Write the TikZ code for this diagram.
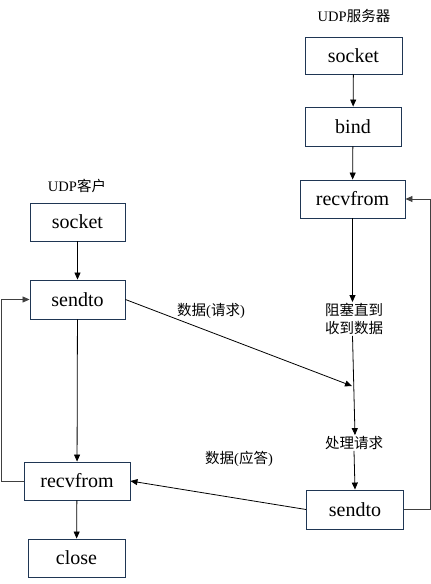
\documentclass[tikz,border=0pt]{standalone}
\usepackage{fontspec}
\setmainfont{Liberation Serif}
\newfontfamily\cjk{Noto Sans CJK SC}
\usetikzlibrary{arrows.meta}
\definecolor{boxline}{HTML}{1F3654}
\definecolor{loopline}{HTML}{404040}
\tikzset{
  box/.style={draw=boxline, line width=0.9pt, fill=white, inner sep=0pt,
    font=\fontsize{20}{24}\selectfont},
  lbl/.style={inner sep=1pt, align=center, font=\fontsize{14.5}{18}\selectfont},
  conn/.style={line width=0.8pt, -{Triangle[length=7pt,width=6pt]}},
  plain/.style={line width=0.8pt},
}
\begin{document}
\begin{tikzpicture}[x=1pt,y=-1pt]
\useasboundingbox (0,0) rectangle (431,584);
% client
\node[lbl] (clab) at (77,186) {UDP{\cjk 客户}};
\node[box, minimum width=95pt, minimum height=38pt] (csock) at (77.5,222) {socket};
\node[box, minimum width=95pt, minimum height=39pt] (csend) at (77.5,299.5) {sendto};
\node[box, minimum width=106pt, minimum height=38pt] (crecv) at (77,481) {recvfrom};
\node[box, minimum width=97pt, minimum height=38pt] (cclose) at (76.5,558) {close};
% server
\node[lbl] (slab) at (354,16) {UDP{\cjk 服务器}};
\node[box, minimum width=97pt, minimum height=37pt] (ssock) at (353.5,55.5) {socket};
\node[box, minimum width=96pt, minimum height=39pt] (sbind) at (353,126.5) {bind};
\node[box, minimum width=105pt, minimum height=38pt] (srecv) at (352.5,199) {recvfrom};
\node[lbl] (blk) at (354,319) {\cjk 阻塞直到\\\cjk 收到数据};
\node[lbl] (proc) at (354,443) {\cjk 处理请求};
\node[box, minimum width=97pt, minimum height=39pt] (ssend) at (355,509.5) {sendto};
% data labels
\node[lbl] (req) at (211,311) {{\cjk 数据}({\cjk 请求})};
\node[lbl] (resp) at (239,459) {{\cjk 数据}({\cjk 应答})};
\coordinate (meet) at (352,386);
\coordinate (cl) at (1.5,481);
\coordinate (sr) at (430,509.5);
% client connectors
\draw[conn] (csock) -- (csend);
\draw[conn] (csend) -- (crecv);
\draw[conn] (crecv) -- (cclose);
\draw[conn, draw=loopline] (crecv.west) -- (cl) |- (csend.west);
\draw[conn] (csend.east) -- (meet);
% server connectors
\draw[conn] (ssock) -- (sbind);
\draw[conn] (sbind) -- (srecv);
\draw[conn] (srecv.south) -- (srecv.south |- blk.north);
\draw[conn] (blk.south -| srecv.south) -- ([xshift=1pt]proc.north);
\draw[conn] (proc.south) -- (ssend.north);
\draw[conn, draw=loopline] (ssend.east) -- (sr) |- (srecv.east);
\draw[conn] (ssend.west) -- (crecv.east);
\end{tikzpicture}
\end{document}
